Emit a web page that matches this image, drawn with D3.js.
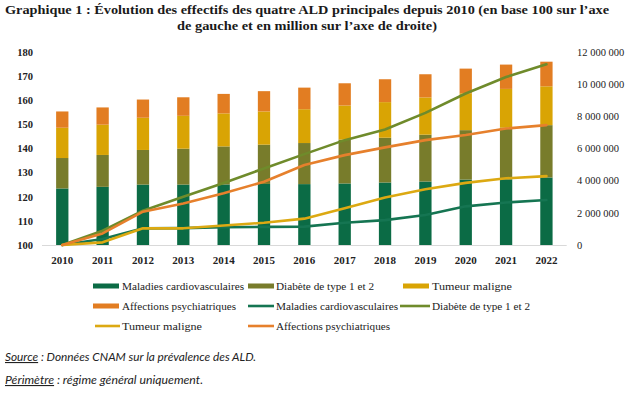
<!DOCTYPE html>
<html><head><meta charset="utf-8">
<script src="https://cdn.jsdelivr.net/npm/d3@7"></script>
<style>body{margin:0;background:#fff}svg{display:block}</style>
</head><body>
<svg id="c" width="641" height="393"></svg>
<script>
const years = ["2010","2011","2012","2013","2014","2015","2016","2017","2018","2019","2020","2021","2022"];
// stacked bars, in millions of people (right axis)
const cardioBar = [3.51,3.61,3.75,3.75,3.76,3.79,3.78,3.82,3.88,3.94,4.06,4.08,4.19];
const diabBar   = [1.89,1.98,2.15,2.23,2.36,2.44,2.55,2.72,2.78,2.91,3.07,3.20,3.25];
const tumeurBar = [1.88,1.88,2.00,2.04,2.05,2.06,2.10,2.12,2.21,2.31,2.29,2.41,2.41];
const psychBar  = [1.01,1.07,1.13,1.15,1.21,1.26,1.34,1.38,1.42,1.44,1.53,1.51,1.53];
// index lines, base 100 in 2010 (left axis)
const cardioIdx = [100,102.5,106.9,107.0,107.4,107.5,107.6,109.2,110.3,112.4,116.0,117.6,118.6];
const diabIdx   = [100,105.9,114.2,120.0,125.7,131.7,137.6,143.4,147.8,154.7,162.7,169.5,174.8];
const tumeurIdx = [100,101.1,106.9,106.9,108.1,109.2,110.9,115.2,119.7,123.1,125.7,127.6,128.5];
const psychIdx  = [100,104.8,113.8,117.2,121.4,126.2,133.1,137.2,140.4,143.4,145.5,148.2,149.6];
const leftTicks = [100,110,120,130,140,150,160,170,180];
const rightTicks = [0,2,4,6,8,10,12];
const barNames = ["Maladies cardiovasculaires","Diabète de type 1 et 2","Tumeur maligne","Affections psychiatriques"];
const lineNames = ["Maladies cardiovasculaires","Diabète de type 1 et 2","Tumeur maligne","Affections psychiatriques"];
const barColors = ["#0b6b45","#787c2b","#d9a404","#e27d22"];
const lineColors = ["#157552","#6f8b2b","#dca912","#e6802c"];

const svg = d3.select("#c");
const serif = "'Liberation Serif', serif";

// title
svg.append("text").attr("x",5).attr("y",14).attr("font-family",serif).attr("font-weight","bold")
  .attr("font-size",13).attr("fill","#1a1a1a").attr("textLength",604).attr("lengthAdjust","spacingAndGlyphs")
  .text("Graphique 1 : Évolution des effectifs des quatre ALD principales depuis 2010 (en base 100 sur l’axe");
svg.append("text").attr("x",177).attr("y",30).attr("font-family",serif).attr("font-weight","bold")
  .attr("font-size",13).attr("fill","#1a1a1a").attr("textLength",260).attr("lengthAdjust","spacingAndGlyphs")
  .text("de gauche et en million sur l’axe de droite)");

const x = d3.scaleBand().domain(years).range([42,566.7]).paddingInner(0.695).paddingOuter(0.35);
const yR = d3.scaleLinear().domain([0,12]).range([245,51.7]);
const yL = d3.scaleLinear().domain([100,180]).range([245,51.7]);

// stacked bars
const rows = years.map((y,i)=>({year:y, c:cardioBar[i], d:diabBar[i], t:tumeurBar[i], p:psychBar[i]}));
const stack = d3.stack().keys(["c","d","t","p"])(rows);
svg.append("g").selectAll("g").data(stack).join("g").attr("fill",(d,i)=>barColors[i])
  .selectAll("rect").data(d=>d).join("rect")
  .attr("x",d=>x(d.data.year)).attr("width",x.bandwidth())
  .attr("y",d=>yR(d[1])).attr("height",d=>yR(d[0])-yR(d[1]));

// baseline
svg.append("line").attr("x1",42).attr("x2",566.7).attr("y1",245.5).attr("y2",245.5)
  .attr("stroke","#d9d9d9").attr("stroke-width",1);

// axes
const gL = svg.append("g").attr("transform","translate(33,0)")
  .call(d3.axisLeft(yL).tickValues(leftTicks).tickSize(0).tickPadding(0).tickFormat(d3.format("d")));
gL.select(".domain").remove();
gL.selectAll("text").attr("font-family",serif).attr("font-weight","bold").attr("font-size",10.5).attr("fill","#222");

const fmt = v => v===0 ? "0" : d3.format(",")(v*1e6).replace(/,/g," ");
const gR = svg.append("g").attr("transform","translate(577,0)")
  .call(d3.axisRight(yR).tickValues(rightTicks).tickSize(0).tickPadding(0).tickFormat(fmt));
gR.select(".domain").remove();
gR.selectAll("text").attr("font-family",serif).attr("font-size",10.5).attr("fill","#222");

const gX = svg.append("g").attr("transform","translate(0,256)")
  .call(d3.axisBottom(x).tickSize(0).tickPadding(0));
gX.select(".domain").remove();
gX.selectAll("text").attr("font-family",serif).attr("font-weight","bold").attr("font-size",11).attr("fill","#222");

// lines
const idxSeries = [cardioIdx, diabIdx, tumeurIdx, psychIdx];
const line = d3.line().x((d,i)=>x(years[i])+x.bandwidth()/2).y(d=>yL(d));
svg.append("g").selectAll("path").data(idxSeries).join("path")
  .attr("d",line).attr("fill","none").attr("stroke",(d,i)=>lineColors[i])
  .attr("stroke-width",2.6).attr("stroke-linejoin","round").attr("stroke-linecap","round");

// legend
const legItems = [
  {t:"bar", i:0, x:93, y:286, tx:122, w:122},
  {t:"bar", i:1, x:248, y:286, tx:276, w:98},
  {t:"bar", i:2, x:403, y:286, tx:432, w:80},
  {t:"bar", i:3, x:93, y:306, tx:122, w:114},
  {t:"line", i:0, x:248, y:306, tx:276, w:122},
  {t:"line", i:1, x:400, y:306, tx:432, w:98},
  {t:"line", i:2, x:95, y:326, tx:122, w:80},
  {t:"line", i:3, x:248, y:326, tx:276, w:114}
];
const leg = svg.append("g");
legItems.forEach(it=>{
  if (it.t==="bar") {
    leg.append("rect").attr("x",it.x).attr("y",it.y-2.5).attr("width",26).attr("height",5).attr("fill",barColors[it.i]);
  } else {
    leg.append("line").attr("x1",it.x).attr("x2",it.tx-2).attr("y1",it.y).attr("y2",it.y)
      .attr("stroke",lineColors[it.i]).attr("stroke-width",2.6);
  }
  leg.append("text").attr("x",it.tx).attr("y",it.y+3.8).attr("font-family",serif).attr("font-size",11)
    .attr("fill","#222").attr("textLength",it.w).attr("lengthAdjust","spacingAndGlyphs")
    .text(it.t==="bar" ? barNames[it.i] : lineNames[it.i]);
});

// footnotes
const sans = "Lato, 'Open Sans', sans-serif";
const f1 = svg.append("text").attr("x",5).attr("y",361).attr("font-family",sans).attr("font-style","italic")
  .attr("font-size",11).attr("fill","#222").attr("textLength",251).attr("lengthAdjust","spacingAndGlyphs");
f1.append("tspan").attr("text-decoration","underline").text("Source");
f1.append("tspan").text(" : Données CNAM sur la prévalence des ALD.");
const f2 = svg.append("text").attr("x",5).attr("y",384).attr("font-family",sans).attr("font-style","italic")
  .attr("font-size",11).attr("fill","#222").attr("textLength",198).attr("lengthAdjust","spacingAndGlyphs");
f2.append("tspan").attr("text-decoration","underline").text("Périmètre");
f2.append("tspan").text(" : régime général uniquement.");
</script>
</body></html>
